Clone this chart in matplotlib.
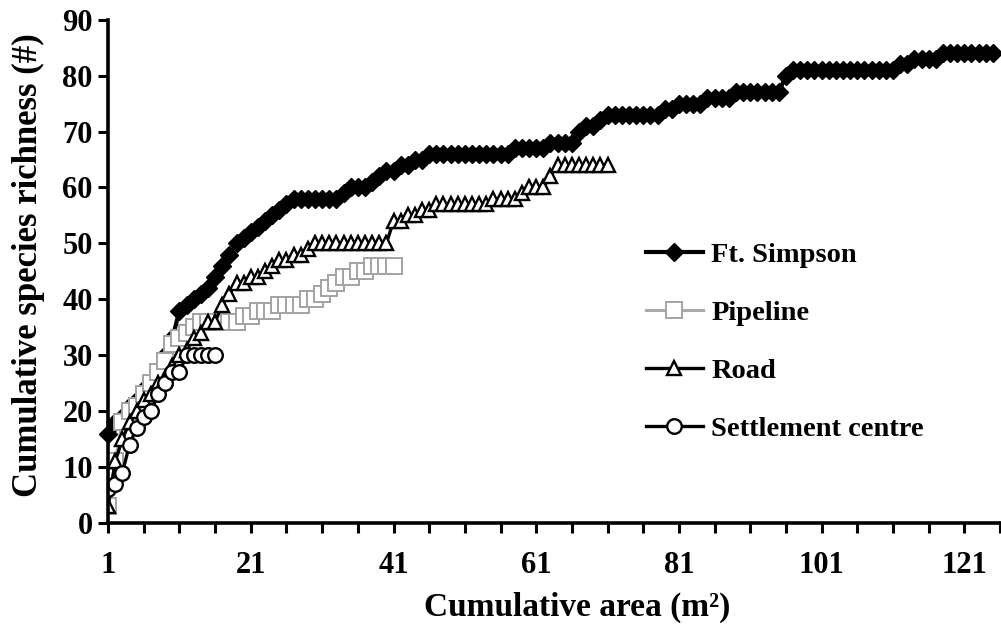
import numpy as np
import matplotlib
matplotlib.use("Agg")
import matplotlib.pyplot as plt

# cumulative species richness per cumulative sampled area (1 m2 steps)
ft_simpson = [
    16, 18, 19, 21, 22, 24, 25, 27, 30, 33,
    38, 39, 40, 41, 42, 44, 46, 48, 50, 51,
    52, 53, 54, 55, 56, 57, 58, 58, 58, 58,
    58, 58, 58, 59, 60, 60, 60, 61, 62, 63,
    63, 64, 64, 65, 65, 66, 66, 66, 66, 66,
    66, 66, 66, 66, 66, 66, 66, 67, 67, 67,
    67, 67, 68, 68, 68, 68, 70, 71, 71, 72,
    73, 73, 73, 73, 73, 73, 73, 73, 74, 74,
    75, 75, 75, 75, 76, 76, 76, 76, 77, 77,
    77, 77, 77, 77, 77, 80, 81, 81, 81, 81,
    81, 81, 81, 81, 81, 81, 81, 81, 81, 81,
    81, 82, 82, 83, 83, 83, 83, 84, 84, 84,
    84, 84, 84, 84, 84,
]
pipeline = [
    3, 11, 18, 20, 21, 23, 25, 27, 29, 32,
    33, 34, 35, 36, 36, 36, 36, 36, 36, 37,
    37, 38, 38, 38, 39, 39, 39, 39, 40, 40,
    41, 42, 43, 44, 44, 45, 45, 46, 46, 46,
    46,
]
road = [
    3, 11, 15, 18, 20, 22, 23, 25, 26, 28,
    30, 31, 33, 34, 36, 36, 39, 41, 43, 43,
    44, 44, 45, 46, 47, 47, 48, 48, 49, 50,
    50, 50, 50, 50, 50, 50, 50, 50, 50, 50,
    54, 54, 55, 55, 56, 56, 57, 57, 57, 57,
    57, 57, 57, 57, 58, 58, 58, 58, 59, 60,
    60, 60, 62, 64, 64, 64, 64, 64, 64, 64,
    64,
]
settlement = [6, 7, 9, 14, 17, 19, 20, 23, 25, 27, 27, 30, 30, 30, 30, 30]

x_tick_labels = ["1", "21", "41", "61", "81", "101", "121"]

plt.rcParams["font.family"] = ["Liberation Serif", "DejaVu Serif"]
plt.rcParams["font.weight"] = "bold"

fig = plt.figure(figsize=(10.01, 6.37), dpi=100)
ax = fig.add_axes([0.108, 0.179, 0.891, 0.790])

def area(vals):
    return np.arange(1, len(vals) + 1)

ax.plot(area(ft_simpson), ft_simpson, color="black", lw=3.0, marker="D",
        ms=9, mfc="black", mec="black", label="Ft. Simpson", clip_on=False)
ax.plot(area(pipeline), pipeline, color="#aaaaaa", lw=2.2, marker="s",
        ms=11, mfc="white", mec="#a3a3a3", mew=1.4, label="Pipeline")
ax.plot(area(road), road, color="black", lw=2.4, marker="^",
        ms=10.5, mfc="white", mec="black", mew=1.7, label="Road")
ax.plot(area(settlement), settlement, color="black", lw=2.4, marker="o",
        ms=10.5, mfc="white", mec="black", mew=1.7, label="Settlement centre")

ax.set_xlim(1, 126)
ax.set_ylim(0, 90)

major = np.arange(1, 127, 5)
ax.set_xticks(major)
ax.set_xticklabels([str(v) if str(v) in x_tick_labels else "" for v in major])
ax.set_yticks(np.arange(0, 91, 10))

for s in ["top", "right"]:
    ax.spines[s].set_visible(False)
for s in ["left", "bottom"]:
    ax.spines[s].set_linewidth(2.6)

ax.tick_params(direction="out", length=7, width=2.2, labelsize=22)
ax.tick_params(axis="x", pad=13)
ax.tick_params(axis="y", pad=4)
for lab in ax.get_xticklabels() + ax.get_yticklabels():
    lab.set_fontweight("bold")

ax.set_xlabel("Cumulative area (m²)", fontsize=24, fontweight="bold")
ax.set_ylabel("Cumulative species richness (#)", fontsize=25, fontweight="bold")
ax.xaxis.set_label_coords(0.526, -0.137)
ax.yaxis.set_label_coords(-0.0706, 0.512)

ax.legend(loc="upper left", bbox_to_anchor=(0.59, 0.58), frameon=False,
          prop={"size": 20.5, "weight": "bold"}, handlelength=2.0,
          handletextpad=0.3, labelspacing=1.12, borderaxespad=0)

fig.savefig("out.png", dpi=100)
